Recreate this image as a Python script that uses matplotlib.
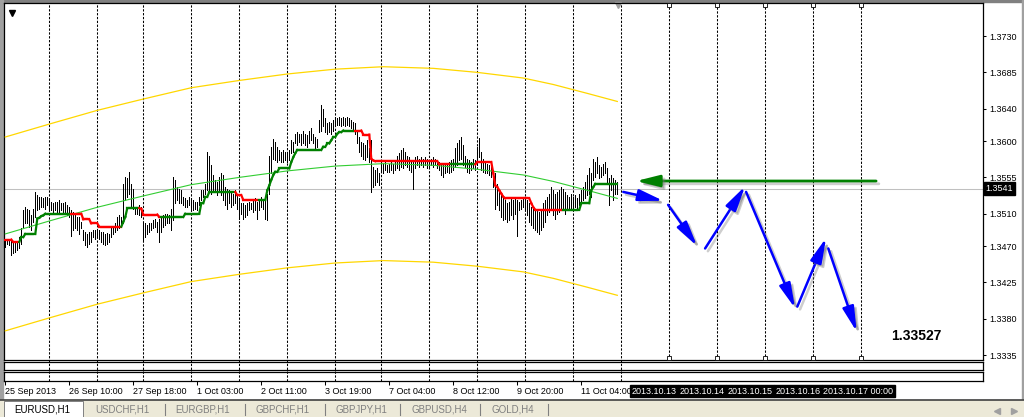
import numpy as np
import matplotlib
matplotlib.use("Agg")
import matplotlib.pyplot as plt
import matplotlib.patheffects as pe
from matplotlib.collections import LineCollection
from matplotlib.patches import FancyArrowPatch, Rectangle
from matplotlib.transforms import blended_transform_factory

# EURUSD H1, precios guardados en puntos sobre 1.3000
base = 1.3

hi_pts = [479, 479, 478, 477, 475, 475, 475, 481, 492, 514,
          518, 516, 514, 508, 516, 537, 533, 531, 531, 529,
          531, 531, 527, 525, 523, 525, 525, 527, 523, 523,
          525, 521, 518, 514, 512, 508, 506, 506, 500, 490,
          487, 485, 487, 487, 490, 490, 490, 490, 487, 487,
          485, 486, 485, 492, 494, 498, 506, 508, 506, 547,
          556, 554, 562, 547, 541, 518, 518, 521, 518, 498,
          498, 496, 498, 498, 502, 504, 500, 504, 506, 508,
          510, 510, 508, 516, 556, 552, 543, 541, 539, 531,
          529, 527, 531, 529, 527, 525, 525, 531, 539, 539,
          547, 587, 582, 570, 558, 552, 549, 556,
          560, 558, 543, 541, 539, 537, 535, 539, 533, 527,
          523, 523, 521, 523, 525, 523, 527, 529, 525, 527,
          531, 527, 527, 535, 582, 593, 603, 599, 593, 589,
          587, 589, 587, 585, 589, 601, 599, 609, 611, 609,
          609, 613, 609, 607, 613, 616, 609, 605, 603, 626,
          644, 640, 628, 622, 624, 622, 626, 630, 628, 630,
          628, 630, 628, 630, 628, 626, 624, 622, 613, 605,
          599, 597, 595, 601, 591, 601, 568, 564, 566, 560,
          574, 572, 574, 570, 572, 574, 572, 576, 582, 585,
          589, 591, 587, 582, 580, 576, 574, 580, 582, 578,
          580, 578, 580, 578, 576, 578, 580, 578, 576, 574,
          572, 570, 570, 572, 574, 576, 578, 591, 597, 601,
          605, 595, 582, 578, 576, 574, 578, 576, 593, 604,
          587, 578, 574, 572, 570, 568, 564, 560, 547, 539,
          535, 531, 527, 523, 525, 531, 527, 529, 527, 525,
          527, 529, 531, 527, 523, 518, 516, 514, 516, 512,
          514, 523, 527, 531, 535, 543, 539, 535, 537, 539,
          543, 541, 537, 533, 531, 535, 531, 533, 529, 535,
          539, 543, 549, 558, 566, 560, 578, 574, 580, 570,
          568, 572, 574, 566, 554, 558, 554, 552, 549]

lo_pts = [469, 472, 471, 459, 461, 463, 465, 467, 473, 494,
          498, 498, 494, 490, 500, 506, 514, 516, 518, 518,
          516, 521, 514, 514, 512, 514, 512, 512, 514, 510,
          512, 508, 506, 483, 490, 492, 490, 485, 492, 477,
          471, 469, 473, 475, 481, 479, 481, 479, 475, 473,
          471, 473, 475, 481, 485, 487, 490, 492, 494, 498,
          527, 531, 535, 518, 516, 510, 510, 508, 506, 477,
          481, 485, 487, 490, 492, 494, 487, 475, 487, 494,
          496, 498, 498, 490, 502, 523, 527, 523, 523, 521,
          518, 518, 521, 516, 514, 516, 514, 521, 527, 531,
          535, 539, 537, 535, 539, 537, 533, 539,
          533, 527, 521, 516, 523, 518, 521, 523, 516, 504,
          510, 504, 506, 508, 514, 516, 512, 514, 504, 514,
          518, 516, 504, 502, 535, 560, 578, 576, 574, 576,
          574, 574, 576, 574, 576, 585, 587, 597, 595, 599,
          595, 597, 595, 593, 597, 601, 597, 591, 593, 611,
          613, 618, 611, 609, 611, 609, 613, 618, 620, 620,
          618, 620, 618, 620, 618, 616, 613, 609, 597, 587,
          582, 578, 576, 580, 574, 537, 543, 545, 549, 545,
          562, 560, 564, 562, 562, 564, 560, 564, 566, 564,
          568, 566, 570, 568, 564, 562, 540, 566, 570, 568,
          570, 568, 570, 566, 568, 570, 568, 570, 566, 564,
          558, 556, 560, 562, 560, 562, 564, 568, 570, 576,
          578, 570, 568, 562, 560, 564, 566, 564, 570, 580,
          564, 562, 560, 560, 558, 556, 543, 516, 521, 514,
          506, 502, 504, 500, 502, 508, 504, 510, 483, 514,
          516, 518, 516, 508, 500, 496, 492, 490, 487, 485,
          490, 494, 500, 508, 512, 514, 508, 504, 510, 512,
          516, 514, 510, 514, 516, 516, 514, 518, 516, 521,
          523, 527, 529, 533, 535, 531, 552, 556, 560, 554,
          556, 558, 560, 547, 521, 539, 527, 535, 535]

# linea escalonada: largo de cada tramo (barras), nivel, 1 = verde / 0 = rojo
trend_len = [4, 4, 2, 6, 1, 1, 1, 1, 14, 5, 4, 4, 12, 1, 1, 7, 1, 8, 2, 11,
             8, 2, 2, 14, 3, 9, 3, 1, 1, 1, 1, 2, 6, 1, 1, 1, 13, 2, 2, 1,
             2, 1, 2, 7, 3, 4, 1, 1, 32, 7, 12, 8, 1, 1, 1, 1, 1, 1, 13, 1,
             1, 15, 8, 5, 1, 1, 12]
trend_lvl = [478, 475, 481, 485, 504, 505, 507, 508, 510, 510,
             503, 498, 494, 500, 506, 517, 516, 509, 506, 506,
             510, 523, 531, 537, 533, 527, 527, 539, 545, 552,
             558, 562, 566, 574, 580, 585, 589, 593, 597, 601,
             605, 609, 611, 613, 613, 608, 578, 576, 575, 571,
             571, 574, 560, 545, 543, 539, 535, 531, 529, 523,
             518, 515, 515, 523, 539, 543, 547]
trend_up = [0, 0, 1, 1, 1, 1, 1, 1, 1, 0, 0, 0, 0, 1, 1, 1, 0, 0, 0, 1,
            1, 1, 1, 1, 0, 0, 1, 1, 1, 1, 1, 1, 1, 1, 1, 1, 1, 1, 1, 1,
            1, 1, 1, 1, 0, 0, 0, 0, 0, 0, 1, 0, 0, 0, 0, 0, 0, 0, 0, 0,
            0, 0, 1, 1, 1, 1, 1]

# canal de regresion
chan_bar = [0, 22, 46, 69, 93, 117, 141, 165, 189, 214, 236, 259, 274, 291, 306]
chan_mid = [485, 501, 518, 532, 546, 555, 563, 569, 572, 570, 565, 558, 550, 539, 529]
chan_top = [605, 621, 638, 652, 666, 675, 683, 689, 692, 690, 685, 678, 670, 659, 649]
chan_bot = [365, 381, 398, 412, 426, 435, 443, 449, 452, 450, 445, 438, 430, 419, 409]

last_price = 1.3541
price_ticks = [1.3335, 1.3380, 1.3425, 1.3470, 1.3510, 1.3555, 1.3600, 1.3640, 1.3685, 1.3730]

date_bars = [0, 32, 64, 96, 128, 160, 192, 224, 256, 288]
date_labels = ['25 Sep 2013', '26 Sep 10:00', '27 Sep 18:00', '1 Oct 03:00', '2 Oct 11:00',
               '3 Oct 19:00', '7 Oct 04:00', '8 Oct 12:00', '9 Oct 20:00', '11 Oct 04:00']
grid_bars = [22, 46, 69, 93, 117, 141, 165, 188, 212, 236, 260, 284, 308]

vline_bars = [332, 356, 380, 404, 428]
vline_dates = ['2013.10.13', '2013.10.14', '2013.10.15', '2013.10.16', '2013.10.17']
vline_time = '00:00'

# flechas del pronostico (barra, puntos)
blue_b0 = [309, 331.4, 349.9, 370.4, 396, 411.5]
blue_p0 = [537, 521, 467, 537, 395, 467]
blue_b1 = [329, 345.9, 369.9, 394.9, 410.4, 425.7]
blue_p1 = [526, 470, 544, 393, 480, 364]
green_b0, green_b1, green_p = 435.4, 315.4, 550.5

target_bar, target_pts, target_text = 455.4, 358.6, '1.33527'

tabs = ['EURUSD,H1', 'USDCHF,H1', 'EURGBP,H1', 'GBPCHF,H1', 'GBPJPY,H1', 'GBPUSD,H4', 'GOLD,H4']
tab_x = [14, 95, 175, 255, 335, 412, 492]
tab_sep = [165, 245, 325, 400, 480, 548]


def pr(v):
    return base + np.asarray(v, dtype=float) / 1e4


plt.rcParams['font.family'] = ['Liberation Sans', 'DejaVu Sans']

W, H = 1024, 417
fig = plt.figure(figsize=(W / 100, H / 100), dpi=100, facecolor='white')


def box(x0, y0, x1, y1):
    return [x0 / W, 1 - y1 / H, (x1 - x0) / W, (y1 - y0) / H]


# fondo / marco de la ventana en pixeles
deco = fig.add_axes([0, 0, 1, 1], zorder=-2)
deco.set_xlim(0, W)
deco.set_ylim(H, 0)
deco.axis('off')
deco.add_patch(Rectangle((0, 0), W, 1.5, color='#808080'))
deco.add_patch(Rectangle((0, 0), 2.5, H, color='#A0A0A0'))
deco.add_patch(Rectangle((W - 2.5, 0), 2.5, H, color='#A0A0A0'))
deco.add_patch(Rectangle((0, 400), W, 17, color='#ECE9D8'))
deco.plot([0, W], [400, 400], color='#404040', lw=1.2)
deco.add_patch(Rectangle((4, 401), 79, 16, facecolor='white', edgecolor='#808080', lw=0.7))
for i, t in enumerate(tabs):
    deco.text(tab_x[i], 410, t, fontsize=7, va='center', ha='left',
              color='black' if i == 0 else '#808080')
for s in tab_sep:
    deco.plot([s, s], [404, 415], color='#808080', lw=0.8)
deco.plot([997], [411], marker='<', ms=4, color='#A0A0A0')
deco.plot([1014], [411], marker='>', ms=4, color='#A0A0A0')

xlim = (-0.65, 488.85)
ylim = (pr(328.9), pr(770.9))

# lineas de la grilla (pasan por las subventanas)
gax = fig.add_axes(box(4, 3, 983, 381), zorder=-1)
gax.set_xlim(*xlim)
gax.axis('off')
for g in grid_bars:
    gax.axvline(g, color='black', lw=0.75, dashes=(2.2, 1.5))

ax = fig.add_axes(box(4, 3, 983, 360), zorder=1)
sub1 = fig.add_axes(box(4, 362, 983, 370), zorder=1)
sub2 = fig.add_axes(box(4, 372, 983, 381), zorder=1)
for a in (ax, sub1, sub2):
    a.set_facecolor('none')
    a.set_xlim(*xlim)
    for sp in a.spines.values():
        sp.set_linewidth(0.9)
        sp.set_color('black')
    a.set_xticks([])
    a.set_yticks([])
ax.set_ylim(*ylim)

n = len(hi_pts)
hi = pr(hi_pts)
lo = pr(lo_pts)
segs = [[(i, lo[i]), (i, hi[i])] for i in range(n)]
ax.add_collection(LineCollection(segs, colors='black', linewidths=0.5, antialiaseds=False, zorder=2))

ax.axhline(last_price, color='#C0C0C0', lw=0.75, zorder=1)

ax.plot(chan_bar, pr(chan_top), color='#FFD700', lw=0.9, zorder=3)
ax.plot(chan_bar, pr(chan_bot), color='#FFD700', lw=0.9, zorder=3)
ax.plot(chan_bar, pr(chan_mid), color='#32CD32', lw=0.8, zorder=3)

lvl = pr(np.repeat(trend_lvl, trend_len))
up = np.repeat(trend_up, trend_len)
tsegs = [[(i - 1, lvl[i - 1]), (i, lvl[i])] for i in range(1, n)]
tcols = ['#008000' if up[i] else '#FF0000' for i in range(1, n)]
ax.add_collection(LineCollection(tsegs, colors=tcols, linewidths=1.6, capstyle='projecting', zorder=4))

# lineas verticales (objetos) con sus marcas
for b in vline_bars:
    ax.axvline(b, color='black', lw=0.75, dashes=(2.2, 1.5), zorder=1)
    ax.plot([b], [pr(768)], marker='s', ms=2.5, mfc='white', mec='black', mew=0.6, zorder=5, clip_on=False)
    ax.plot([b], [pr(331.5)], marker='s', ms=2.5, mfc='white', mec='black', mew=0.6, zorder=5, clip_on=False)

ax.plot([11.5 / 2 - 2.6], [pr(759)], marker='v', ms=4, color='black')
ax.plot([(618 - 5.3) / 2], [pr(769)], marker='v', ms=5, color='#A0A0A0', clip_on=False)

shadow = [pe.SimpleLineShadow(offset=(2, -2), shadow_color='0.45', alpha=0.35),
          pe.SimplePatchShadow(offset=(2, -2), shadow_rgbFace='0.45', alpha=0.35),
          pe.Normal()]
for b0, p0, b1, p1 in zip(blue_b0, blue_p0, blue_b1, blue_p1):
    arr = FancyArrowPatch((b0, pr(p0)), (b1, pr(p1)),
                          arrowstyle='-|>,head_length=1.5,head_width=0.35', mutation_scale=10,
                          color='#0000FF', lw=1.8, shrinkA=0, shrinkB=0, zorder=6)
    arr.set_path_effects(shadow)
    ax.add_patch(arr)
garr = FancyArrowPatch((green_b0, pr(green_p)), (green_b1, pr(green_p)),
                       arrowstyle='-|>,head_length=1.4,head_width=0.35', mutation_scale=10,
                       color='#008000', lw=2.0, shrinkA=0, shrinkB=0, zorder=6)
garr.set_path_effects(shadow)
ax.add_patch(garr)

ax.text(target_bar, pr(target_pts), target_text, fontsize=10, fontweight='bold',
        ha='center', va='center', zorder=7)

# eje de precios
ax.yaxis.tick_right()
ax.set_yticks(price_ticks)
ax.set_yticklabels(['%.4f' % v for v in price_ticks])
ax.tick_params(axis='y', direction='out', length=2.5, width=0.75, pad=2, labelsize=6.5)
ytr = blended_transform_factory(ax.transAxes, ax.transData)
ax.text(1 + 2.5 / 979, last_price, '%.4f' % last_price, transform=ytr, fontsize=6.5,
        color='white', ha='left', va='center', zorder=8,
        bbox=dict(boxstyle='square,pad=0.2', fc='black', ec='black'))

# eje de tiempo
sub2.set_xticks(date_bars)
sub2.set_xticklabels(date_labels, ha='left')
sub2.tick_params(axis='x', direction='out', length=3, width=0.75, pad=1.5, labelsize=6.5)
# etiquetas de las lineas verticales: cada una tapa la hora de la anterior
xtr = blended_transform_factory(sub2.transData, deco.transData)
for k, (b, t) in enumerate(zip(vline_bars, vline_dates)):
    last = k == len(vline_bars) - 1
    deco.text(b - 19, 391, t + (' ' + vline_time if last else ''), transform=xtr,
              fontsize=6.5, color='white', ha='left', va='center', zorder=10 + k,
              bbox=dict(boxstyle='square,pad=0.15', fc='black', ec='black'))

fig.savefig('out.png', dpi=100, facecolor='white')
